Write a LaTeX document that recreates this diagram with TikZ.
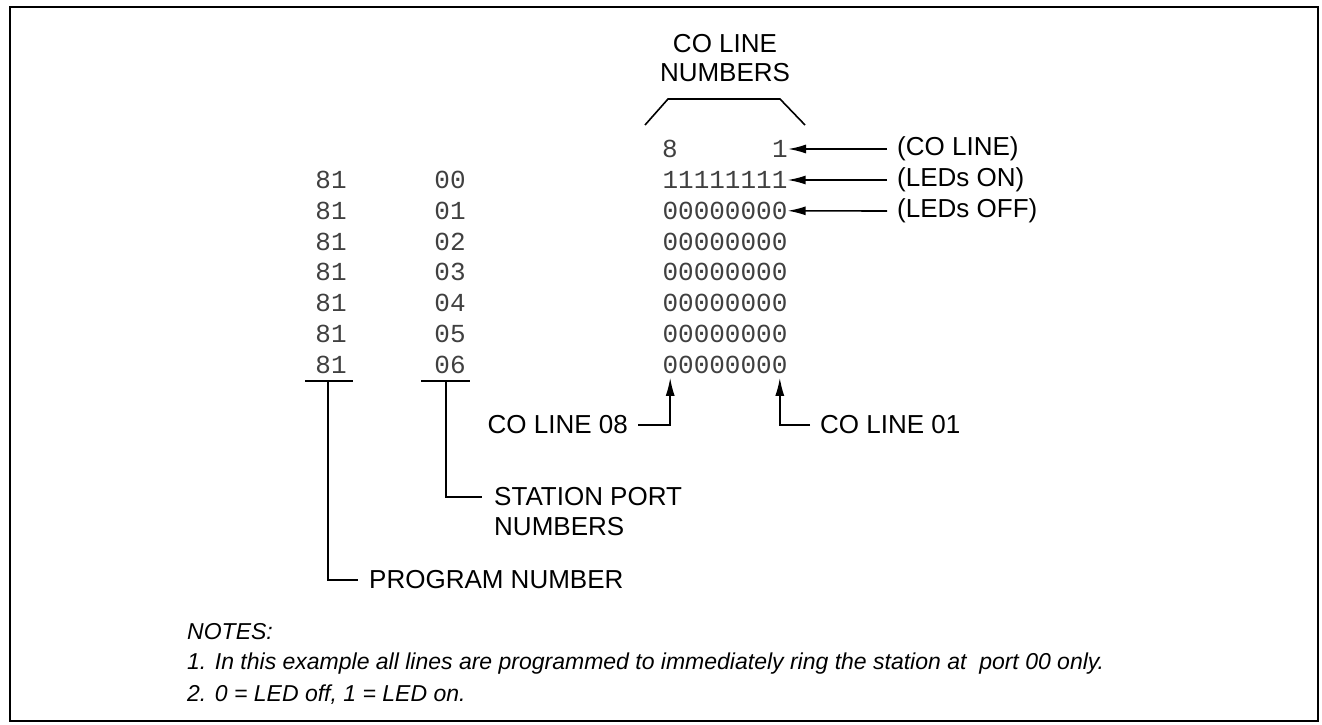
\documentclass[tikz,border=0pt]{standalone}
\usepackage{fontspec}
\setmainfont{Liberation Sans}
\newfontfamily\monofont{Liberation Mono}
\usetikzlibrary{arrows.meta}
\begin{document}
\begin{tikzpicture}[x=1pt,y=-1pt,
  lbl/.style={inner sep=0pt, font=\fontsize{26}{30}\selectfont},
  num/.style={inner sep=0pt, font=\monofont\fontsize{26}{30}\selectfont, text=black!75},
  note/.style={inner sep=0pt, anchor=west, font=\itshape\fontsize{23}{27}\selectfont},
  ln/.style={line width=1.6pt},
  arr/.style={line width=1.6pt, -{Latex[length=18pt,width=9pt]}},
]
\useasboundingbox (0,0) rectangle (1322,725);
\draw[line width=2.2pt] (10,7) rectangle (1318,721);

% top heading and bracket
\node[lbl] (t1) at (725,44) {CO LINE};
\node[lbl] (t2) at (725,73) {NUMBERS};
\coordinate (b1) at (645,125);
\coordinate (b2) at (668,99);
\coordinate (b3) at (780,99);
\coordinate (b4) at (805,125);
\draw[ln] (b1) -- (b2) -- (b3) -- (b4);

% header digits
\node[num] (h8) at (670,149) {8};
\node[num] (h1) at (780,149) {1};

% rows
\foreach \i/\p/\d in {0/00/11111111,1/01/00000000,2/02/00000000,3/03/00000000,4/04/00000000,5/05/00000000,6/06/00000000}{
  \node[num] (prog\i) at (331,{180+30.8*\i}) {81};
  \node[num] (port\i) at (450,{180+30.8*\i}) {\p};
  \node[num] (row\i) at (725,{180+30.8*\i}) {\d};
}

% right-hand labels
\node[lbl,anchor=west] (lco) at (897,149) {(CO LINE)};
\node[lbl,anchor=west] (lon) at (897,180) {(LEDs ON)};
\node[lbl,anchor=west] (loff) at (897,211) {(LEDs OFF)};
\draw[arr] ([xshift=-10pt]lco.west) -- (h1.east);
\draw[arr] ([xshift=-10pt]lon.west) -- (row0.east);
\draw[arr] ([xshift=-10pt]loff.west) -- (row1.east);

% CO LINE 08 / 01
\node[lbl,anchor=east] (c08) at (628,425) {CO LINE 08};
\node[lbl,anchor=west] (c01) at (820,425) {CO LINE 01};
\draw[arr] ([xshift=10pt]c08.east) -| ([xshift=7.8pt,yshift=-4pt]row6.south west);
\draw[arr] ([xshift=-10pt]c01.west) -| ([xshift=-7.8pt,yshift=-4pt]row6.south east);

% underlines and leaders
\coordinate (pl) at (305,381);
\coordinate (pr) at (353,381);
\coordinate (pm) at (328,381);
\coordinate (ql) at (421,381);
\coordinate (qr) at (470,381);
\coordinate (qm) at (446,381);
\draw[ln] (pl) -- (pr);
\draw[ln] (ql) -- (qr);

\node[lbl,anchor=west] (sp1) at (494,497) {STATION PORT};
\node[lbl,anchor=west] (sp2) at (494,527) {NUMBERS};
\node[lbl,anchor=west] (pn) at (369,580) {PROGRAM NUMBER};
\draw[ln] (qm) |- ([xshift=-12pt]sp1.west);
\draw[ln] (pm) |- ([xshift=-11pt]pn.west);

% notes
\node[note] (n0) at (187,632) {NOTES:};
\node[note] (n1) at (187,664) {1. In this example all lines are programmed to immediately ring the station at\ \ port 00 only.};
\node[note] (n2) at (187,695) {2. 0 = LED off, 1 = LED on.};
\end{tikzpicture}
\end{document}
